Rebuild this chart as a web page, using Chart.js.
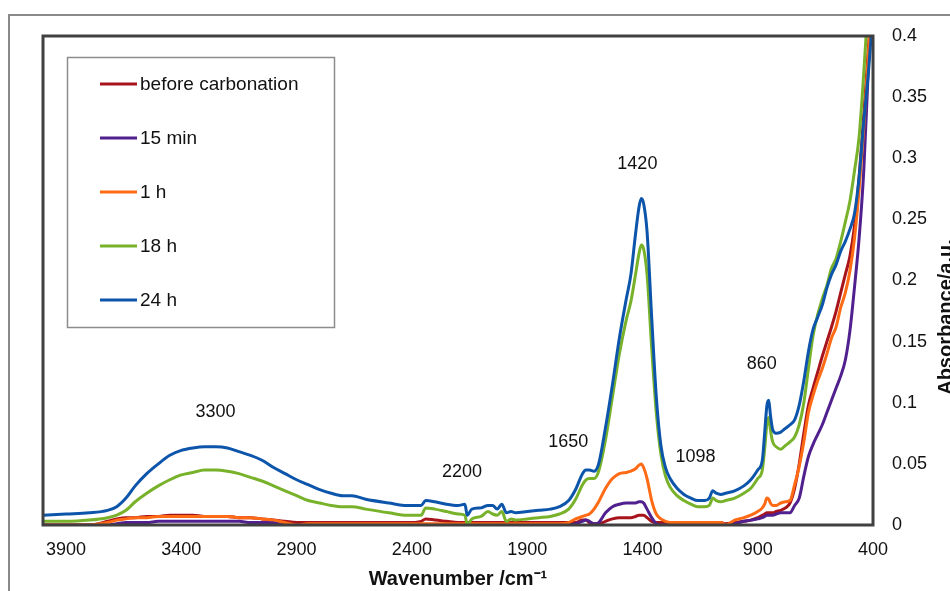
<!DOCTYPE html>
<html>
<head>
<meta charset="utf-8">
<title>FTIR carbonation</title>
<script src="https://cdn.jsdelivr.net/npm/chart.js@4.4.1/dist/chart.umd.min.js"></script>
<style>
  body { margin: 0; background: #fff; }
  canvas { display: block; }
</style>
</head>
<body>
<canvas id="js--chart--ftir" width="950" height="591"></canvas>
<script>
// wavenumbers (cm-1), shared by all spectra
const wavenumbers = [
  4000, 3900, 3800, 3720, 3680, 3640, 3600, 3550, 3500, 3450,
  3400, 3350, 3300, 3250, 3200, 3150, 3100, 3050, 3000, 2950,
  2900, 2850, 2800, 2750, 2700, 2660, 2600, 2500, 2420, 2360,
  2340, 2300, 2250, 2200, 2170, 2160, 2140, 2100, 2070, 2050,
  2030, 2010, 1990, 1970, 1950, 1900, 1850, 1800, 1760, 1720,
  1690, 1660, 1645, 1630, 1610, 1590, 1560, 1530, 1500, 1470,
  1450, 1430, 1415, 1405, 1395, 1380, 1360, 1340, 1320, 1300,
  1280, 1250, 1220, 1190, 1160, 1130, 1110, 1095, 1080, 1060,
  1040, 1000, 960, 930, 900, 880, 870, 860, 852, 845,
  835, 820, 800, 780, 760, 740, 720, 700, 680, 660,
  640, 620, 600, 580, 560, 540, 520, 500, 480, 460,
  440, 420, 400
];

const beforeCarbonation = [
  0.000, 0.000, 0.000, 0.003, 0.005, 0.006, 0.006, 0.007, 0.007, 0.008,
  0.008, 0.008, 0.007, 0.007, 0.007, 0.006, 0.006, 0.005, 0.004, 0.003,
  0.002, 0.002, 0.002, 0.002, 0.002, 0.002, 0.002, 0.002, 0.002, 0.003,
  0.005, 0.004, 0.003, 0.002, 0.002, 0.002, 0.002, 0.002, 0.002, 0.002,
  0.002, 0.002, 0.002, 0.002, 0.002, 0.002, 0.002, 0.002, 0.002, 0.002,
  0.002, 0.004, 0.004, 0.002, 0.001, 0.001, 0.003, 0.005, 0.006, 0.006,
  0.006, 0.007, 0.008, 0.008, 0.008, 0.006, 0.003, 0.002, 0.002, 0.002,
  0.002, 0.002, 0.002, 0.002, 0.002, 0.002, 0.002, 0.002, 0.002, 0.002,
  0.001, 0.002, 0.003, 0.004, 0.006, 0.008, 0.009, 0.010, 0.010, 0.010,
  0.010, 0.011, 0.012, 0.014, 0.018, 0.030, 0.050, 0.075, 0.098, 0.112,
  0.125, 0.138, 0.150, 0.162, 0.175, 0.190, 0.205, 0.220, 0.245, 0.285,
  0.335, 0.390, 0.450
];

const min15 = [
  0.000, 0.000, 0.000, 0.000, 0.001, 0.002, 0.002, 0.002, 0.003, 0.003,
  0.003, 0.003, 0.003, 0.003, 0.003, 0.003, 0.002, 0.002, 0.002, 0.001,
  0.000, 0.000, 0.000, 0.000, 0.000, 0.000, 0.000, 0.000, 0.000, 0.000,
  0.000, 0.000, 0.000, 0.000, 0.000, 0.000, 0.000, 0.000, 0.000, 0.000,
  0.000, 0.000, 0.000, 0.000, 0.000, 0.000, 0.000, 0.000, 0.000, 0.000,
  0.001, 0.003, 0.004, 0.003, 0.001, 0.002, 0.010, 0.015, 0.017, 0.018,
  0.018, 0.018, 0.019, 0.019, 0.018, 0.013, 0.006, 0.001, 0.000, 0.000,
  0.000, 0.000, 0.000, 0.000, 0.000, 0.000, 0.000, 0.000, 0.000, 0.000,
  0.000, 0.001, 0.003, 0.004, 0.005, 0.006, 0.007, 0.008, 0.008, 0.008,
  0.008, 0.009, 0.010, 0.010, 0.010, 0.016, 0.022, 0.040, 0.056, 0.066,
  0.074, 0.082, 0.092, 0.102, 0.112, 0.122, 0.135, 0.159, 0.195, 0.235,
  0.290, 0.375, 0.450
];

const hour1 = [
  0.000, 0.000, 0.000, 0.002, 0.004, 0.005, 0.006, 0.006, 0.007, 0.007,
  0.007, 0.007, 0.007, 0.007, 0.007, 0.006, 0.006, 0.005, 0.004, 0.002,
  0.000, 0.001, 0.001, 0.001, 0.001, 0.001, 0.001, 0.001, 0.001, 0.001,
  0.001, 0.001, 0.001, 0.001, 0.001, 0.001, 0.001, 0.001, 0.001, 0.001,
  0.001, 0.001, 0.001, 0.001, 0.001, 0.001, 0.001, 0.001, 0.001, 0.002,
  0.005, 0.007, 0.008, 0.009, 0.013, 0.019, 0.030, 0.038, 0.042, 0.043,
  0.044, 0.046, 0.049, 0.050, 0.047, 0.038, 0.020, 0.009, 0.005, 0.003,
  0.002, 0.002, 0.002, 0.002, 0.002, 0.002, 0.002, 0.002, 0.002, 0.002,
  0.000, 0.004, 0.006, 0.008, 0.011, 0.014, 0.017, 0.022, 0.021, 0.018,
  0.016, 0.016, 0.018, 0.019, 0.020, 0.033, 0.048, 0.068, 0.092, 0.106,
  0.118, 0.128, 0.140, 0.153, 0.162, 0.178, 0.190, 0.208, 0.235, 0.275,
  0.325, 0.385, 0.450
];

const hour18 = [
  0.003, 0.003, 0.004, 0.006, 0.008, 0.012, 0.019, 0.026, 0.032, 0.037,
  0.041, 0.043, 0.045, 0.045, 0.044, 0.042, 0.039, 0.036, 0.032, 0.028,
  0.024, 0.020, 0.018, 0.016, 0.015, 0.015, 0.013, 0.010, 0.008, 0.008,
  0.014, 0.013, 0.011, 0.009, 0.008, 0.000, 0.005, 0.007, 0.011, 0.009,
  0.008, 0.011, 0.003, 0.005, 0.004, 0.005, 0.006, 0.007, 0.009, 0.013,
  0.021, 0.033, 0.037, 0.038, 0.038, 0.044, 0.070, 0.105, 0.140, 0.168,
  0.183, 0.205, 0.222, 0.229, 0.226, 0.205, 0.145, 0.092, 0.058, 0.040,
  0.031, 0.024, 0.020, 0.017, 0.015, 0.015, 0.016, 0.022, 0.020, 0.019,
  0.020, 0.022, 0.026, 0.030, 0.038, 0.045, 0.062, 0.083, 0.088, 0.078,
  0.068, 0.064, 0.062, 0.065, 0.068, 0.072, 0.082, 0.100, 0.128, 0.155,
  0.172, 0.185, 0.196, 0.210, 0.218, 0.232, 0.248, 0.265, 0.290, 0.318,
  0.370, 0.430, 0.480
];

const hour24 = [
  0.008, 0.009, 0.010, 0.012, 0.015, 0.022, 0.032, 0.042, 0.050, 0.057,
  0.061, 0.063, 0.064, 0.064, 0.063, 0.060, 0.057, 0.053, 0.047, 0.042,
  0.037, 0.033, 0.029, 0.026, 0.024, 0.024, 0.021, 0.018, 0.016, 0.016,
  0.020, 0.019, 0.017, 0.016, 0.017, 0.008, 0.013, 0.014, 0.016, 0.016,
  0.013, 0.017, 0.010, 0.011, 0.010, 0.011, 0.012, 0.013, 0.015, 0.020,
  0.029, 0.042, 0.045, 0.045, 0.044, 0.050, 0.080, 0.115, 0.153, 0.185,
  0.205, 0.238, 0.260, 0.267, 0.263, 0.240, 0.170, 0.105, 0.065, 0.047,
  0.038, 0.030, 0.025, 0.022, 0.020, 0.020, 0.022, 0.028, 0.026, 0.025,
  0.026, 0.028, 0.032, 0.037, 0.045, 0.053, 0.075, 0.098, 0.102, 0.090,
  0.078, 0.075, 0.076, 0.079, 0.082, 0.086, 0.098, 0.118, 0.142, 0.160,
  0.170, 0.180, 0.194, 0.205, 0.213, 0.224, 0.232, 0.242, 0.255, 0.285,
  0.330, 0.370, 0.420
];

const seriesNames = ["before carbonation", "15 min", "1 h", "18 h", "24 h"];
const seriesValues = [beforeCarbonation, min15, hour1, hour18, hour24];
const seriesColors = ["#A8141C", "#50208E", "#FF6A14", "#78B22A", "#0C55AA"];

const xTicks = [3900, 3400, 2900, 2400, 1900, 1400, 900, 400];

// peak labels, placed in data units (wavenumber, absorbance)
const peakLabels = ["3300", "2200", "1650", "1420", "1098", "860"];
const peakLabelX = [3252, 2183, 1722, 1422, 1170, 883];
const peakLabelY = [0.092, 0.043, 0.068, 0.295, 0.056, 0.132];

const fontFamily = "'Liberation Sans', Arial, sans-serif";

const decorations = {
  id: 'decorations',
  beforeDraw(chart) {
    const ctx = chart.ctx;
    ctx.save();
    // outer frame (runs off the picture on the right and bottom)
    ctx.strokeStyle = '#8a8a8a';
    ctx.lineWidth = 2;
    ctx.strokeRect(9, 15, 1000, 1000);
    ctx.restore();
  },
  afterDatasetsDraw(chart) {
    const ctx = chart.ctx;
    const a = chart.chartArea;
    const xs = chart.scales.x;
    const ys = chart.scales.y;
    ctx.save();

    // plot frame
    ctx.strokeStyle = '#404040';
    ctx.lineWidth = 3;
    ctx.strokeRect(a.left, a.top, a.right - a.left, a.bottom - a.top);

    // legend box
    ctx.fillStyle = '#fff';
    ctx.fillRect(67, 57, 267, 270);
    ctx.strokeStyle = '#8c8c8c';
    ctx.lineWidth = 1.5;
    ctx.strokeRect(67.5, 57.5, 267, 270);
    ctx.font = '19px ' + fontFamily;
    ctx.textBaseline = 'middle';
    ctx.textAlign = 'left';
    chart.data.datasets.forEach((ds, i) => {
      const y = 84 + i * 54;
      ctx.strokeStyle = ds.borderColor;
      ctx.lineWidth = 3;
      ctx.beginPath();
      ctx.moveTo(100, y);
      ctx.lineTo(137, y);
      ctx.stroke();
      ctx.fillStyle = '#111';
      ctx.fillText(ds.label, 140, y + 1);
    });

    // peak labels
    ctx.font = '18px ' + fontFamily;
    ctx.textAlign = 'center';
    ctx.fillStyle = '#111';
    peakLabels.forEach((t, i) => {
      ctx.fillText(t, xs.getPixelForValue(peakLabelX[i]), ys.getPixelForValue(peakLabelY[i]));
    });

    // right axis title, reading upwards
    ctx.translate(946, 317);
    ctx.rotate(-Math.PI / 2);
    ctx.font = 'bold 20px ' + fontFamily;
    ctx.fillText('Absorbance/a.u.', 0, 0);
    ctx.restore();
  }
};

new Chart(document.getElementById("js--chart--ftir"), {
  type: 'line',
  data: {
    datasets: seriesNames.map((name, i) => ({
      label: name,
      data: wavenumbers.map((w, j) => ({ x: w, y: seriesValues[i][j] })),
      borderColor: seriesColors[i],
      backgroundColor: seriesColors[i],
      borderWidth: 3,
      pointRadius: 0,
      cubicInterpolationMode: 'monotone',
      order: seriesNames.length - i
    }))
  },
  options: {
    responsive: false,
    animation: false,
    events: [],
    layout: { padding: { left: 43, top: 36, right: 0, bottom: 0 } },
    plugins: {
      legend: { display: false },
      tooltip: { enabled: false }
    },
    scales: {
      x: {
        type: 'linear',
        reverse: true,
        min: 400,
        max: 4000,
        afterBuildTicks: s => { s.ticks = xTicks.map(v => ({ value: v })); },
        afterFit: s => { s.height = 66; },
        grid: { display: false, drawTicks: false },
        border: { display: false },
        ticks: {
          font: { size: 18, family: fontFamily },
          color: '#111',
          padding: 14,
          maxRotation: 0,
          autoSkip: false,
          callback: v => String(v)
        },
        title: {
          display: true,
          text: 'Wavenumber /cm⁻¹',
          font: { size: 20, weight: 'bold', family: fontFamily },
          color: '#111',
          padding: 0
        }
      },
      y: {
        position: 'right',
        min: 0,
        max: 0.4,
        afterFit: s => { s.width = 77; },
        grid: { display: false, drawTicks: false },
        border: { display: false },
        ticks: {
          stepSize: 0.05,
          font: { size: 18, family: fontFamily },
          color: '#111',
          padding: 19,
          callback: v => String(+v.toFixed(2))
        }
      }
    }
  },
  plugins: [decorations]
});
</script>
</body>
</html>
